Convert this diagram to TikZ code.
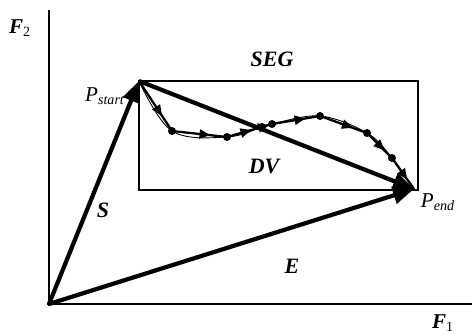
\documentclass[tikz,border=0pt]{standalone}
\usepackage{fontspec}
\setmainfont{Liberation Serif}
\usetikzlibrary{arrows.meta, decorations.markings}

\begin{document}
\begin{tikzpicture}[x=0.02cm, y=-0.02cm, font=\fontsize{12}{14}\selectfont\itshape,
  axis/.style={line width=1.2pt},
  vec/.style={line width=2.4pt, -{Triangle[length=4.2mm, width=3.4mm]}},
  box/.style={line width=1.2pt},
  segline/.style={line width=1.3pt, postaction={decorate}, decoration={markings, mark=at position 0.7 with {\arrow{Triangle[length=2.2mm, width=1.8mm]}}}},
  curve/.style={line width=0.5pt},
  pt/.style={circle, fill, inner sep=0pt, minimum size=1.6mm},
  lab/.style={font=\fontsize{12.5}{14}\selectfont\bfseries\itshape}]
\useasboundingbox (0,0) rectangle (472,334);
% axes
\draw[axis] (49,10) -- (49,306);
\draw[axis] (47,304) -- (472,304);
\node (f2) at (20,28) {\textbf{F}\textsubscript{\upshape 2}};
\node (f1) at (443,323) {\textbf{F}\textsubscript{\upshape 1}};
% points
\coordinate (O) at (49,304);
\coordinate (Ps) at (139,81);
\coordinate (Pe) at (414,189);
\node[pt] (d1) at (172,131) {};
\node[pt] (d2) at (227,137) {};
\node[pt] (d3) at (262,127) {};
\node[pt] (d4) at (272,124) {};
\node[pt] (d5) at (320,116) {};
\node[pt] (d6) at (367,133) {};
\node[pt] (d7) at (392,158) {};
% segment box
\draw[box] (Ps) rectangle (418,190);
\node[lab] (seg) at (272,59) {SEG};
% trajectory
\draw[curve] plot[smooth, tension=0.6] coordinates {(Ps) (d1) (d2) (d3) (d4) (d5) (d6) (d7) (Pe)};
\foreach \a/\b in {Ps/d1, d1/d2, d2/d3, d3/d4, d4/d5, d5/d6, d6/d7, d7/Pe}
  \draw[segline] (\a.center) -- (\b.center);
% vectors
\draw[vec] (O) -- (Ps);
\draw[vec] (O) -- (Pe);
\draw[vec] (Ps) -- (Pe);
\node[lab] (s) at (103,210) {S};
\node[lab] (e) at (292,266) {E};
\node[lab] (dv) at (264,166) {DV};
\node (ps) at (105,96) {P\textsubscript{start}};
\node (pe) at (438,202) {P\textsubscript{end}};
\end{tikzpicture}
\end{document}
